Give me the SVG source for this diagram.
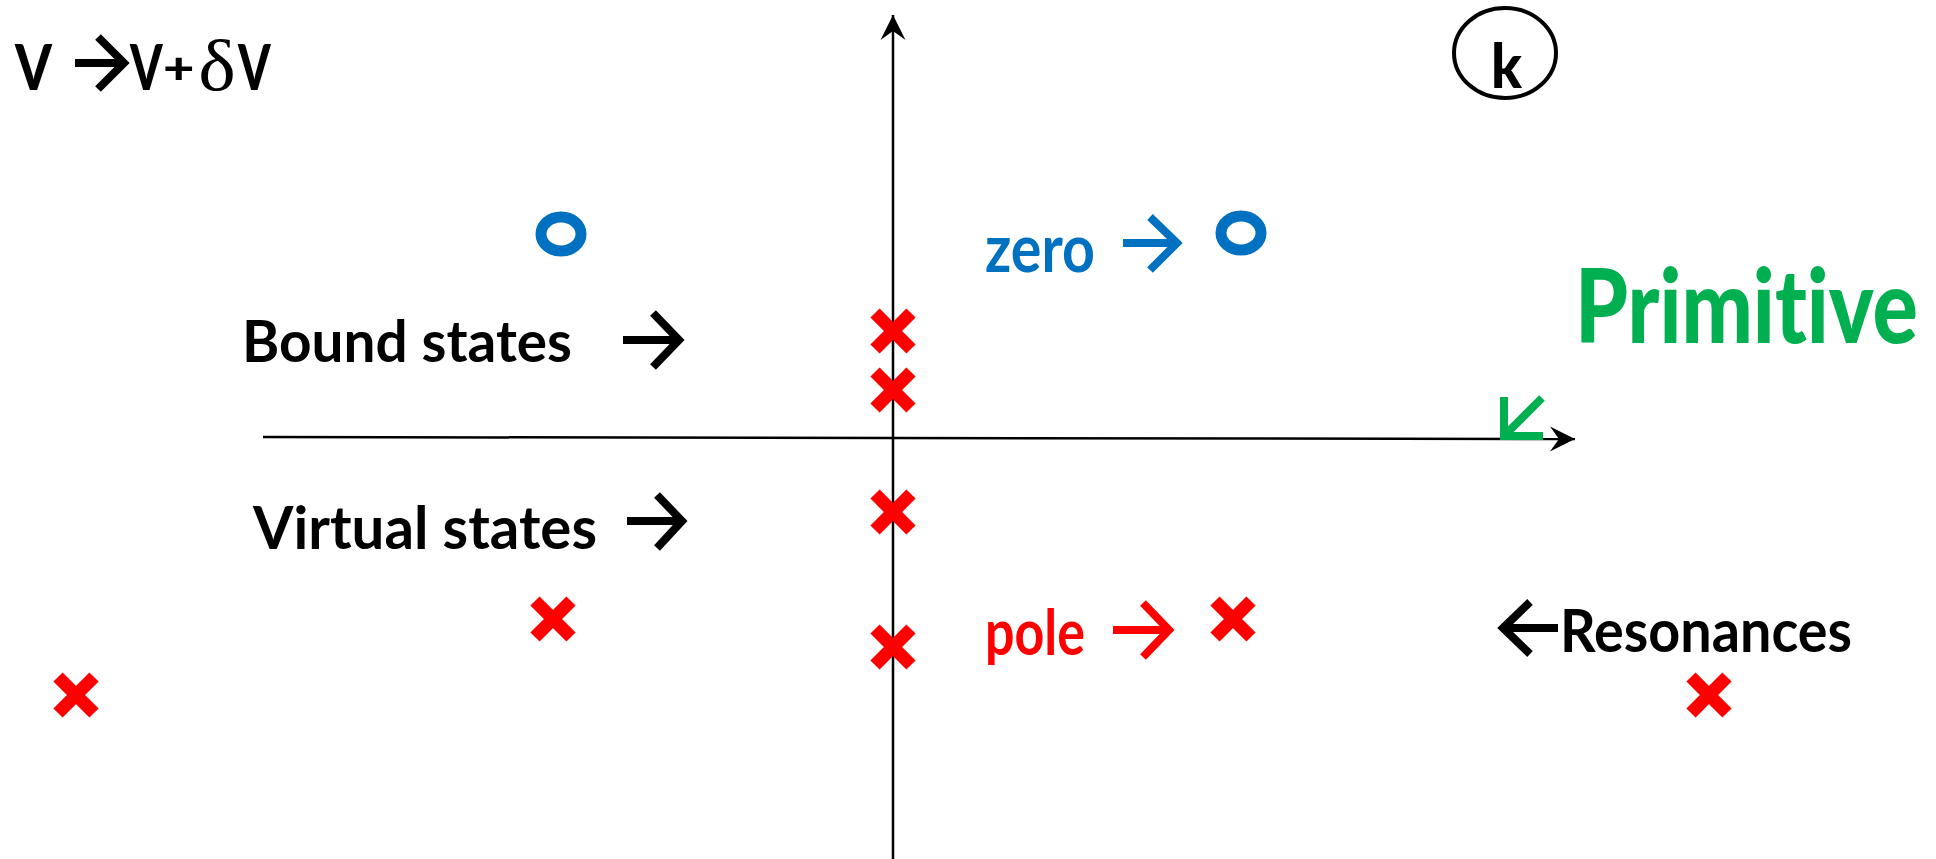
<svg xmlns="http://www.w3.org/2000/svg" width="1936" height="859" viewBox="0 0 1936 859">
  <style>
    .lbl { font-family: Lato, "Open Sans", "DejaVu Sans", sans-serif; font-weight: bold; font-variant-ligatures: none; }
    .heavy { font-weight: 900; }
    .arr { fill: none; stroke-width: 8; stroke-linejoin: miter; stroke-miterlimit: 10; stroke-linecap: butt; }
    .axis { stroke: #000; stroke-width: 2.5; fill: none; }
    .pole { stroke: #FF0000; stroke-width: 13; stroke-linecap: butt; }
    .zero { fill: none; stroke: #0070C0; stroke-width: 11; }
  </style>
  <defs>
    <marker id="ah" viewBox="-26 -13 27 26" markerWidth="27" markerHeight="26" refX="0" refY="0" orient="auto" markerUnits="userSpaceOnUse">
      <path d="M0,0 L-25,-12.5 L-16,0 L-25,12.5 Z" fill="#000"/>
    </marker>
    <g id="cross">
      <line class="pole" x1="-18" y1="-18" x2="18" y2="18"/>
      <line class="pole" x1="-18" y1="18" x2="18" y2="-18"/>
    </g>
  </defs>
  <rect width="1936" height="859" fill="#fff"/>

  <g id="connectors">
    <line class="axis" x1="893" y1="859" x2="893" y2="15" marker-end="url(#ah)"/>
    <line class="axis" x1="263" y1="437" x2="1575" y2="439" marker-end="url(#ah)"/>
  </g>

  <g id="title-perturbation">
    <text class="lbl heavy" font-size="62" transform="translate(15,90) scale(0.85,1)">V</text>
    <path class="arr" stroke="#000" d="M75,63 H125 M98,37 L124,63 L98,89"/>
    <text class="lbl heavy" font-size="62" transform="translate(130,90) scale(0.75,1)"><tspan x="0" y="0">V</tspan><tspan x="44" y="-6" font-size="44" textLength="42" lengthAdjust="spacingAndGlyphs">+</tspan><tspan x="91" y="0" font-family="Liberation Serif, serif" font-weight="normal" font-size="72" textLength="50" lengthAdjust="spacingAndGlyphs">δ</tspan><tspan x="144" y="0">V</tspan></text>
  </g>

  <g id="k-label">
    <ellipse cx="1505" cy="53" rx="51" ry="45" fill="none" stroke="#000" stroke-width="4"/>
    <text class="lbl heavy" x="1491" y="88" font-size="60" textLength="31" lengthAdjust="spacingAndGlyphs">k</text>
  </g>

  <g id="zero-label">
    <text class="lbl" x="985" y="272" font-size="66" fill="#0070C0" textLength="110" lengthAdjust="spacingAndGlyphs">zero</text>
    <path class="arr" stroke="#0070C0" d="M1123,243 H1178 M1150,217 L1177,243 L1150,270"/>
  </g>
  <g id="zero-left"><ellipse class="zero" cx="561" cy="234" rx="20" ry="17"/></g>
  <g id="zero-right"><ellipse class="zero" cx="1241" cy="233" rx="20" ry="17"/></g>

  <g id="bound-states">
    <text class="lbl" x="242" y="362" font-size="58" textLength="330" lengthAdjust="spacingAndGlyphs">Bound states</text>
    <path class="arr" stroke="#000" d="M623,340 H678 M653,313 L679,340 L653,367"/>
  </g>

  <g id="virtual-states">
    <text class="lbl" x="253" y="549" font-size="60" textLength="344" lengthAdjust="spacingAndGlyphs">Virtual states</text>
    <path class="arr" stroke="#000" d="M627,521 H681 M657,495 L682,521 L657,548"/>
  </g>

  <g id="primitive">
    <text class="lbl heavy" x="1575" y="343" font-size="86" fill="#00B050" textLength="343" lengthAdjust="spacingAndGlyphs" transform="translate(0,343) scale(1,1.2) translate(0,-343)">Primitive</text>
    <path class="arr" stroke="#00B050" stroke-width="9" d="M1504,397 V436 H1543 M1504,436 L1542,398"/>
  </g>

  <g id="pole-label">
    <text class="lbl" x="985" y="655" font-size="64" fill="#FF0000" textLength="100" lengthAdjust="spacingAndGlyphs">pole</text>
    <path class="arr" stroke="#FF0000" d="M1113,630 H1168 M1143,603 L1169,630 L1143,657"/>
  </g>

  <g id="resonances">
    <path class="arr" stroke="#000" d="M1558,628 H1503 M1530,602 L1503,628 L1530,654"/>
    <text class="lbl" x="1560" y="652" font-size="60" textLength="292" lengthAdjust="spacingAndGlyphs">Resonances</text>
  </g>

  <g id="bound-1"><use href="#cross" x="893" y="331"/></g>
  <g id="bound-2"><use href="#cross" x="893" y="390"/></g>
  <g id="virtual-1"><use href="#cross" x="893" y="512"/></g>
  <g id="virtual-2"><use href="#cross" x="893" y="647"/></g>
  <g id="pole-left"><use href="#cross" x="553" y="619"/></g>
  <g id="pole-right"><use href="#cross" x="1233" y="619"/></g>
  <g id="res-left"><use href="#cross" x="76" y="695"/></g>
  <g id="res-right"><use href="#cross" x="1709" y="695"/></g>
</svg>
